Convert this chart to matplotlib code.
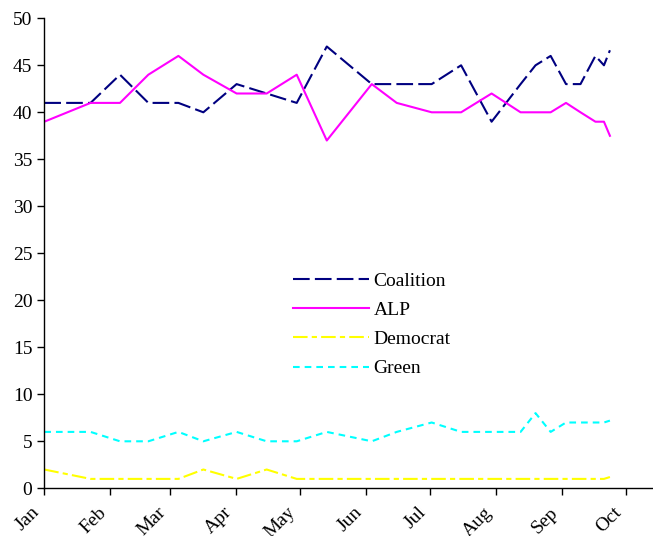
import matplotlib
matplotlib.use("Agg")
import matplotlib.pyplot as plt
import matplotlib.transforms as mtransforms
import numpy as np

plt.rcParams['font.family'] = ['Liberation Serif', 'DejaVu Serif']

# Poll dates as day-of-year (Jan 1 = 0, non-leap year)
days = [0, 21.7, 35.5, 48.8, 62.9, 74.6, 90.2, 104.3, 118.4, 132.5, 153.6,
        165.3, 181.7, 195.5, 209.8, 223.4, 230.4, 237.5, 244.7, 251.5,
        258.5, 262.5, 265.3]
coalition = [41, 41, 44, 41, 41, 40, 43, 42, 41, 47, 43,
             43, 43, 45, 39, 43, 45, 46, 43, 43,
             46, 45, 46.6]
alp = [39, 41, 41, 44, 46, 44, 42, 42, 44, 37, 43,
       41, 40, 40, 42, 40, 40, 40, 41, 40,
       39, 39, 37.5]
democrat = [2, 1, 1, 1, 1, 2, 1, 2, 1, 1, 1,
            1, 1, 1, 1, 1, 1, 1, 1, 1,
            1, 1, 1.2]
green = [6, 6, 5, 5, 6, 5, 6, 5, 5, 6, 5,
         6, 7, 6, 6, 6, 8, 6, 7, 7,
         7, 7, 7.2]

month_labels = ['Jan', 'Feb', 'Mar', 'Apr', 'May', 'Jun', 'Jul', 'Aug', 'Sep', 'Oct']
month_starts = [0, 31, 59, 90, 120, 151, 181, 212, 243, 273]

W, H = 653, 536
fig = plt.figure(figsize=(W / 100, H / 100), dpi=100)
ax = fig.add_axes([44.3 / W, 1 - 488.3 / H, 1 - 44.3 / W, (488.3 - 18.3) / H])

lw = 1.5
ax.plot(days, coalition, color='#000080', lw=lw, dashes=(8, 2.5), label='Coalition')
ax.plot(days, alp, color='#FF00FF', lw=lw, label='ALP')
ax.plot(days, democrat, color='#FFFF00', lw=lw, dashes=(7, 2, 2.5, 2), label='Democrat')
ax.plot(days, green, color='#00FFFF', lw=lw, dashes=(3.2, 2.4), label='Green')

ax.set_yticks(np.arange(0, 51, 5))
ax.set_xticks(month_starts)
ax.set_xticklabels(month_labels, rotation=45, ha='right', va='center', rotation_mode='anchor')
ax.set_xlim(0, (653 - 44.3) / 2.132)
ax.set_ylim(0, 50)

for s in ['top', 'right']:
    ax.spines[s].set_visible(False)
for s in ['left', 'bottom']:
    ax.spines[s].set_linewidth(1.0)
    ax.spines[s].set_color('black')
ax.tick_params(axis='both', direction='out', length=5, width=1.0, labelsize=14, colors='black')
ax.tick_params(axis='x', pad=10.5)
offset = mtransforms.ScaledTranslation(-7 / 100, 0, fig.dpi_scale_trans)
for lab in ax.get_xticklabels():
    lab.set_transform(lab.get_transform() + offset)

leg = ax.legend(loc='upper left', bbox_to_anchor=(293 / W, 1 - 272 / H),
                bbox_transform=fig.transFigure, frameon=False, fontsize=14,
                handlelength=3.9, handletextpad=0.25, labelspacing=0.6,
                borderpad=0, borderaxespad=0)

fig.savefig('out.png', dpi=100)
